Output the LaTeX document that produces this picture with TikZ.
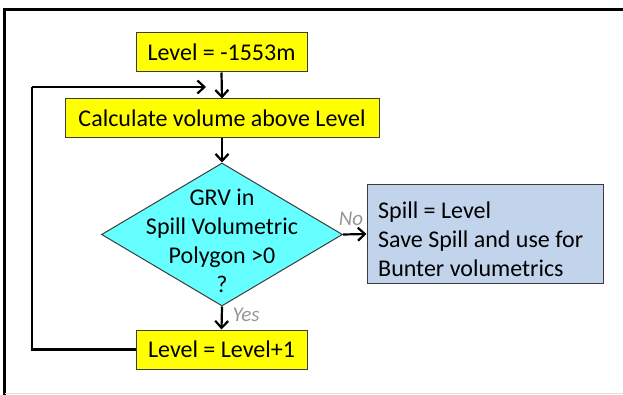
\documentclass[tikz,border=0pt]{standalone}
\usepackage{fontspec}
\setmainfont{Carlito}
\usetikzlibrary{arrows.meta,shapes.geometric}

\definecolor{boxyellow}{RGB}{255,255,0}
\definecolor{decisioncyan}{RGB}{102,255,255}
\definecolor{resultblue}{RGB}{194,211,236}
\definecolor{edgegray}{RGB}{60,60,60}
\definecolor{labelgray}{RGB}{150,150,150}

\tikzset{
  flowbox/.style={draw=edgegray, line width=1pt, fill=boxyellow, minimum height=39pt,
    inner sep=0pt, font=\fontsize{24}{29}\selectfont},
  decision/.style={draw=edgegray, line width=1pt, fill=decisioncyan, shape=diamond,
    minimum width=241pt, minimum height=143pt, inner sep=0pt},
  resultbox/.style={draw=edgegray, line width=1pt, fill=resultblue, minimum width=236pt,
    minimum height=98pt, inner sep=0pt},
  bodytext/.style={inner sep=0pt, font=\fontsize{24}{29}\selectfont},
  flow/.style={line width=2.2pt, -{Straight Barb[length=7pt,width=13pt]}},
  loopline/.style={line width=2.2pt},
  branchlabel/.style={inner sep=0pt, text=labelgray, font=\fontsize{21}{24}\selectfont\itshape},
}

\begin{document}
\begin{tikzpicture}[x=1pt,y=-1pt]
  \useasboundingbox (0,0) rectangle (623,395);

  % outer frame (only its top and left sides fall inside the page)
  \draw[line width=3pt, line cap=rect] (640,10) -- (4.7,10) -- (4.7,400);
  \draw[line width=1pt, black!12] (4.7,393.5) -- (623,393.5);

  % flow boxes
  \node[flowbox, minimum width=171pt] (start) at (221.5,52.5) {Level = -1553m};
  \node[flowbox, minimum width=314pt] (calc) at (222,118.5) {Calculate volume above Level};
  \node[decision] (test) at (222,234.5) {};
  \node[bodytext, align=center] (testtext) at (222,241) {GRV in\\Spill Volumetric\\Polygon >0\\?};
  \node[resultbox] (spill) at (485,234) {};
  \node[bodytext, align=left, anchor=west] (spilltext) at (378,239)
    {Spill = Level\\Save Spill and use for\\Bunter volumetrics};
  \node[flowbox, minimum width=171pt] (incr) at (221.5,349.5) {Level = Level+1};

  % connectors
  \draw[flow] (start.south) -- (calc.north);
  \draw[flow] (calc.south) -- (test.north);
  \draw[flow] (test.east) -- (spill.west);
  \draw[flow] (test.south) -- (incr.north);

  % loop back to the calculation step
  \coordinate (loopcorner) at (32,87);
  \coordinate (loopend) at (206,87);
  \draw[loopline] (incr.west) -| (loopcorner);
  \draw[flow] (loopcorner) -- (loopend);

  % branch labels
  \node[branchlabel] (nolabel) at (351,219) {No};
  \node[branchlabel] (yeslabel) at (246,315) {Yes};
\end{tikzpicture}
\end{document}
